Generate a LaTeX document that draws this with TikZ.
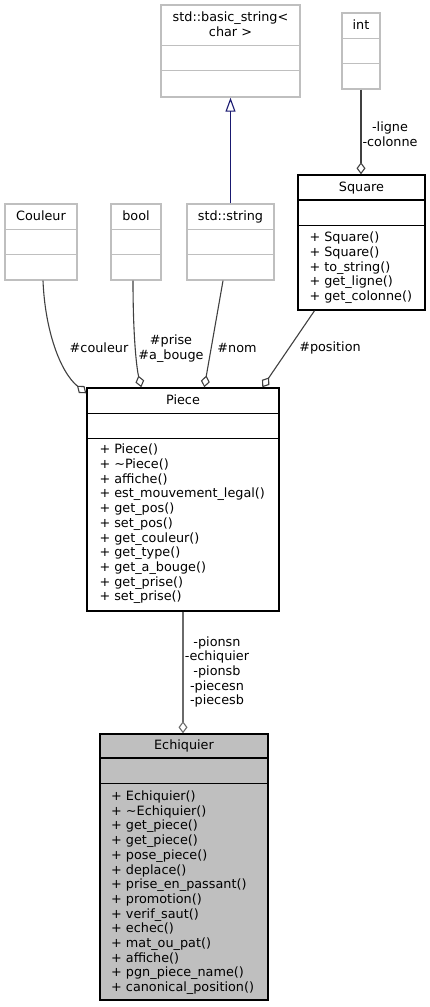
\documentclass[tikz,border=0pt]{standalone}
\usepackage{fontspec}
\setmainfont{DejaVu Sans}
\usetikzlibrary{arrows.meta}
\definecolor{edgegray}{HTML}{404040}
\definecolor{usegray}{HTML}{6A6A6A}
\definecolor{boxgray}{HTML}{BFBFBF}
\definecolor{midnightblue}{HTML}{191970}
\tikzset{
  cls/.style={draw=black, line width=1.4pt, fill=white, inner sep=0pt},
  ext/.style={draw=boxgray, line width=1.4pt, fill=white, inner sep=0pt},
  txt/.style={inner sep=0pt, font=\fontsize{12.8}{14.7}\selectfont},
  member/.style={txt, anchor=base west},
  aggr/.style={draw=edgegray, line width=1.1pt, -{Diamond[open, length=12pt, width=9pt]}},
  inherit/.style={draw=midnightblue, line width=1.1pt, -{Triangle[open, length=14pt, width=10pt]}},
}
% two divider lines of a class box, measured from its top
\newcommand\compartments[4]{%
  \draw[#4, line width=1.4pt] ([yshift=-#2]#1.north west) -- ([yshift=-#2]#1.north east);
  \draw[#4, line width=1.4pt] ([yshift=-#3]#1.north west) -- ([yshift=-#3]#1.north east);
}
\begin{document}
\begin{tikzpicture}[x=1pt, y=-1pt]
\useasboundingbox (0,0) rectangle (430,1007);
% boxes
\node[ext, minimum width=139, minimum height=92] (basic) at (230.5,51) {};
\node[ext, minimum width=38, minimum height=76] (int) at (361,51) {};
\node[cls, minimum width=127, minimum height=135] (square) at (361.5,242.5) {};
\node[ext, minimum width=72, minimum height=76] (couleur) at (41,242) {};
\node[ext, minimum width=50, minimum height=76] (bool) at (136,242) {};
\node[ext, minimum width=87, minimum height=76] (string) at (230.5,242) {};
\node[cls, minimum width=192, minimum height=223] (piece) at (183,499.5) {};
\node[cls, fill=boxgray, minimum width=168, minimum height=266] (echiquier) at (184,867) {};
\compartments{basic}{41}{66}{boxgray}
\compartments{int}{26}{51}{boxgray}
\compartments{square}{25.5}{51}{black}
\compartments{couleur}{26}{51}{boxgray}
\compartments{bool}{26}{51}{boxgray}
\compartments{string}{26}{51}{boxgray}
\compartments{piece}{26}{51}{black}
\compartments{echiquier}{24.5}{50}{black}
% titles
\node[txt, align=center] (basic-title) at ([yshift=-20]basic.north) {std::basic\_string<\\char >};
\node[txt, anchor=base] (int-title) at ([yshift=-17.5]int.north) {int};
\node[txt, anchor=base] (square-title) at ([yshift=-17]square.north) {Square};
\node[txt, anchor=base] (couleur-title) at ([yshift=-17.5]couleur.north) {Couleur};
\node[txt, anchor=base] (bool-title) at ([yshift=-17.5]bool.north) {bool};
\node[txt, anchor=base] (string-title) at ([yshift=-17.5]string.north) {std::string};
\node[txt, anchor=base] (piece-title) at ([yshift=-17]piece.north) {Piece};
\node[txt, anchor=base] (echiquier-title) at ([yshift=-16.5]echiquier.north) {Echiquier};
% members
\foreach \m [count=\i] in {Square(), Square(), to\_string(), get\_ligne(), get\_colonne()}
  \node[member] (square-m\i) at ([xshift=12, yshift={-52.9-14.6*\i}]square.north west) {+ \m};
\foreach \m [count=\i] in {Piece(), \textasciitilde Piece(), affiche(), est\_mouvement\_legal(),
    get\_pos(), set\_pos(), get\_couleur(), get\_type(), get\_a\_bouge(), get\_prise(), set\_prise()}
  \node[member] (piece-m\i) at ([xshift=13, yshift={-51.8-14.7*\i}]piece.north west) {+ \m};
\foreach \m [count=\i] in {Echiquier(), \textasciitilde Echiquier(), get\_piece(), get\_piece(),
    pose\_piece(), deplace(), prise\_en\_passant(), promotion(), verif\_saut(), echec(),
    mat\_ou\_pat(), affiche(), pgn\_piece\_name(), canonical\_position()}
  \node[member] (echiquier-m\i) at ([xshift=11.7, yshift={-52.5-14.7*\i}]echiquier.north west) {+ \m};
% connectors
\draw[inherit] (string.north) -- (basic.south);
\draw[aggr] (int.south) -- (int.south |- square.north);
\draw[aggr] ([xshift=2]couleur.south) .. controls (45,330) and (60,372) .. ([yshift=-6]piece.north west);
\draw[aggr] ([xshift=-3]bool.south) .. controls (133,340) and (137,370) .. ([xshift=55]piece.north west);
\draw[aggr] ([xshift=-7.5]string.south) -- ([xshift=118]piece.north west);
\draw[aggr] ([xshift=-47]square.south) -- ([xshift=176]piece.north west);
\draw[aggr, draw=usegray] (piece.south) -- (piece.south |- echiquier.north);
% labels
\node[txt, align=center] (lbl-int) at (390,134.5) {-ligne\\-colonne};
\node[txt] (lbl-couleur) at (99,348) {\#couleur};
\node[txt, align=center] (lbl-bool) at (171,348.5) {\#prise\\\#a\_bouge};
\node[txt] (lbl-nom) at (237,348) {\#nom};
\node[txt] (lbl-position) at (330,348) {\#position};
\node[txt, align=center] (lbl-echiquier) at (217,672) {-pionsn\\-echiquier\\-pionsb\\-piecesn\\-piecesb};
\end{tikzpicture}
\end{document}
